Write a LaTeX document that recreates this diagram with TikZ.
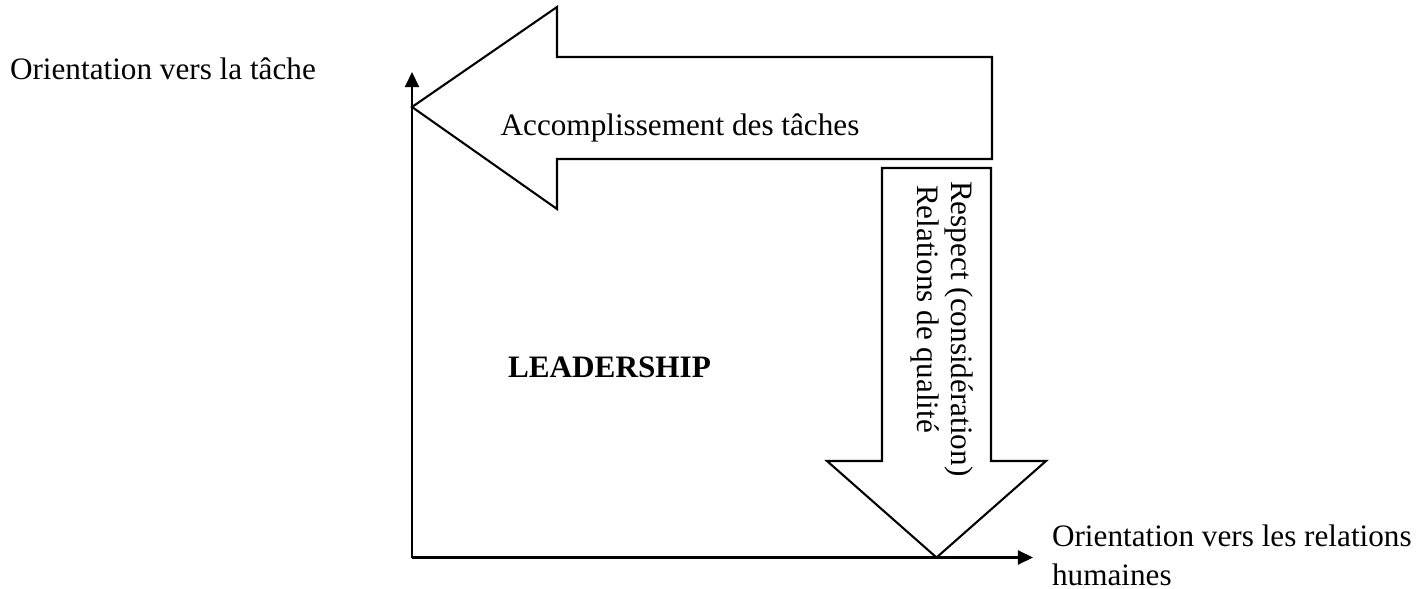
\documentclass[tikz,border=0pt]{standalone}
\usepackage{fontspec}
\setmainfont{Liberation Serif}
\usetikzlibrary{arrows.meta}
\begin{document}
\begin{tikzpicture}[x=0.3846pt,y=-0.3846pt,
  line width=0.8pt, line join=miter,
  lbl/.style={inner sep=0pt, font=\fontsize{12pt}{14pt}\selectfont},
  axis/.style={-{Triangle[length=5.8pt,width=5.4pt]}},
  bigarrow/.style={draw, fill=white}]
\useasboundingbox (0,0) rectangle (1428,589);
% axes
\coordinate (O) at (412,557.5);
\coordinate (Ytip) at (412,72);
\coordinate (Xtip) at (1033,557.5);
\draw[axis] (O) -- (Ytip);
\draw[axis] (O) -- (Xtip);
% left block arrow
\draw[bigarrow] (412,107) -- (557,7) -- (557,57) -- (992,57) -- (992,159) -- (557,159) -- (557,209) -- cycle;
% down block arrow
\draw[bigarrow] (882,168) -- (991,168) -- (991,461) -- (1046,461) -- (936.5,557.5) -- (827,461) -- (882,461) -- cycle;
% texts
\node[lbl, anchor=base west] (tache) at (9,80) {Orientation vers la tâche};
\node[lbl, anchor=base] (accomp) at (680,136) {Accomplissement des tâches};
\node[lbl, anchor=base west, font=\fontsize{12pt}{14pt}\selectfont\bfseries] (lead) at (507,377) {LEADERSHIP};
\node[lbl, anchor=base west, rotate=-90] (respect) at (951,180) {Respect (considération)};
\node[lbl, anchor=base west, rotate=-90] (relq) at (917,184) {Relations de qualité};
\node[lbl, anchor=base west] (rel1) at (1051,546) {Orientation vers les relations};
\node[lbl, anchor=base west] (rel2) at (1051,585) {humaines};
\end{tikzpicture}
\end{document}
